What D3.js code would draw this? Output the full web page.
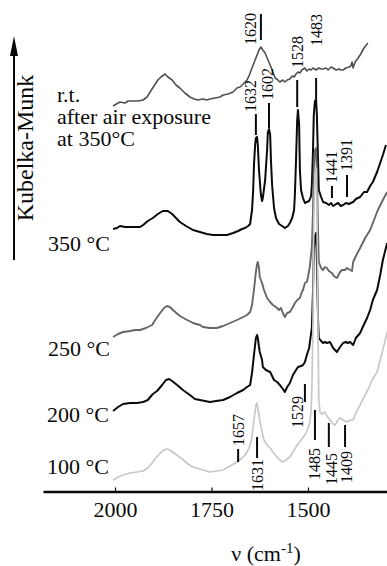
<!DOCTYPE html>
<html><head><meta charset="utf-8">
<script src="https://cdn.jsdelivr.net/npm/d3@7/dist/d3.min.js"></script>
<style>
html,body{margin:0;padding:0;background:#fff;}
svg{display:block;}
</style></head><body>
<svg id="chart" width="387" height="566" font-family="'Liberation Serif', 'Times New Roman', serif"></svg>
<script>
// ---------- DATA (wavenumber cm-1, Kubelka-Munk arbitrary units incl. stacking offset) ----------
const spectrumRT = [[2005,385],[1992,388],[1987,389],[1974,388],[1966,390],[1953,390],[1940,390],[1927,391],[1917,394],[1909,399],[1899,405],[1889,411],[1881,414],[1870,417],[1863,414],[1852,411],[1842,406],[1832,403],[1819,398],[1806,394],[1795,392],[1785,391],[1772,392],[1762,391],[1754,392],[1741,393],[1728,394],[1720,396],[1707,397],[1694,399],[1684,403],[1676,404],[1668,407],[1658,411],[1653,415],[1645,423],[1637,431],[1632,436],[1627,441],[1622,444],[1617,441],[1611,438],[1606,433],[1598,426],[1591,419],[1585,413],[1578,411],[1573,409],[1565,411],[1560,409],[1554,411],[1547,412],[1541,415],[1536,414],[1531,417],[1526,419],[1521,418],[1516,421],[1508,423],[1503,420],[1497,422],[1492,421],[1487,423],[1479,421],[1472,423],[1466,422],[1461,422],[1453,423],[1448,421],[1440,424],[1435,423],[1427,421],[1420,422],[1415,421],[1409,421],[1402,423],[1394,424],[1389,425],[1386,429],[1383,423],[1378,429],[1370,433],[1365,436],[1355,443],[1345,448]];
const spectrum350 = [[2005,262],[1995,263],[1987,265],[1974,264],[1961,264],[1943,264],[1935,264],[1927,266],[1915,270],[1902,273],[1889,277],[1876,280],[1863,280],[1852,277],[1842,273],[1832,269],[1816,265],[1798,261],[1780,259],[1762,257],[1746,256],[1728,256],[1710,256],[1694,258],[1681,260],[1671,262],[1663,263],[1655,265],[1650,267],[1645,281],[1642,301],[1640,326],[1637,346],[1635,353],[1632,354],[1630,346],[1627,321],[1622,296],[1619,290],[1617,293],[1611,311],[1606,341],[1604,359],[1601,362],[1598,356],[1596,331],[1593,306],[1588,283],[1583,273],[1575,267],[1567,265],[1560,263],[1552,265],[1547,268],[1541,273],[1536,281],[1534,296],[1531,331],[1528,371],[1526,381],[1523,366],[1521,321],[1518,301],[1513,293],[1508,288],[1503,289],[1497,290],[1492,295],[1490,306],[1487,341],[1485,376],[1482,390],[1479,391],[1477,376],[1474,331],[1472,301],[1466,294],[1461,289],[1453,288],[1446,286],[1440,288],[1435,285],[1427,287],[1422,288],[1415,285],[1409,286],[1402,288],[1394,287],[1389,288],[1383,289],[1376,292],[1365,294],[1355,299],[1347,299],[1339,305],[1332,309],[1321,319],[1313,328],[1306,336],[1298,346]];
const spectrum250 = [[2005,154],[1992,157],[1979,159],[1961,160],[1948,161],[1935,161],[1920,163],[1904,166],[1894,172],[1883,178],[1873,183],[1865,185],[1858,184],[1850,181],[1832,175],[1813,171],[1798,168],[1780,166],[1772,164],[1754,163],[1736,163],[1720,165],[1702,168],[1684,171],[1668,174],[1658,176],[1650,179],[1645,186],[1640,201],[1635,219],[1632,227],[1630,229],[1627,223],[1625,214],[1619,208],[1614,201],[1606,193],[1598,189],[1591,186],[1583,184],[1575,181],[1570,183],[1565,178],[1560,174],[1554,178],[1547,179],[1539,184],[1534,188],[1528,191],[1521,193],[1516,199],[1513,201],[1508,208],[1503,209],[1500,214],[1495,225],[1490,244],[1487,281],[1485,321],[1482,341],[1479,343],[1477,321],[1474,261],[1472,229],[1466,223],[1461,221],[1456,224],[1451,223],[1446,220],[1438,218],[1433,215],[1425,213],[1417,219],[1412,221],[1404,221],[1399,223],[1391,221],[1386,220],[1383,229],[1376,235],[1365,243],[1352,253],[1339,261],[1329,271],[1319,281],[1306,291],[1295,299]];
const spectrum200 = [[2005,80],[1992,84],[1979,87],[1961,88],[1943,88],[1927,89],[1915,91],[1902,97],[1891,100],[1878,106],[1868,111],[1860,112],[1852,110],[1839,106],[1824,101],[1806,96],[1793,92],[1780,91],[1767,90],[1754,89],[1738,90],[1720,91],[1702,94],[1684,98],[1668,101],[1658,104],[1650,106],[1645,118],[1640,136],[1635,153],[1632,156],[1630,153],[1627,144],[1625,139],[1619,131],[1617,124],[1609,121],[1604,120],[1598,119],[1593,115],[1588,111],[1580,109],[1573,106],[1565,102],[1560,99],[1554,104],[1547,108],[1539,116],[1531,121],[1526,124],[1518,125],[1513,126],[1508,129],[1503,136],[1497,143],[1495,149],[1490,163],[1487,201],[1485,241],[1482,255],[1479,258],[1477,231],[1474,171],[1472,153],[1466,150],[1461,148],[1456,149],[1451,148],[1443,149],[1435,143],[1430,141],[1425,139],[1417,144],[1409,148],[1402,149],[1397,148],[1391,149],[1383,146],[1376,153],[1365,158],[1358,164],[1347,173],[1339,181],[1332,191],[1321,201],[1313,216],[1306,231],[1295,248]];
const spectrum100 = [[2005,11],[1992,14],[1979,16],[1961,18],[1943,19],[1927,20],[1915,23],[1904,28],[1894,33],[1883,38],[1873,41],[1865,42],[1858,41],[1847,38],[1837,35],[1826,32],[1811,27],[1798,24],[1788,23],[1772,21],[1754,19],[1736,20],[1720,21],[1702,25],[1684,29],[1671,33],[1663,36],[1655,41],[1650,46],[1645,54],[1640,71],[1635,86],[1632,88],[1630,83],[1627,76],[1625,71],[1619,59],[1614,51],[1606,46],[1598,43],[1591,39],[1580,34],[1573,31],[1565,29],[1557,31],[1547,34],[1539,39],[1528,46],[1518,51],[1508,56],[1500,63],[1495,69],[1492,81],[1490,101],[1487,171],[1485,271],[1482,316],[1479,323],[1477,291],[1474,161],[1472,91],[1469,79],[1464,77],[1456,79],[1451,75],[1443,71],[1435,67],[1430,66],[1422,71],[1417,73],[1409,71],[1399,69],[1391,71],[1383,71],[1376,78],[1365,86],[1355,94],[1345,101],[1334,111],[1321,119],[1313,131],[1303,146],[1295,159]];

const seriesNames = ["r.t. after air exposure at 350°C", "350 °C", "250 °C", "200 °C", "100 °C"];
const seriesData = [spectrumRT, spectrum350, spectrum250, spectrum200, spectrum100];
const rtLabelLines = ["r.t.", "after air exposure", "at 350°C"];
const xTickValues = [2000, 1750, 1500];
const xTickLabels = ["2000", "1750", "1500"];

// peak annotations: label, text position (wavenumber, KM), marker bar (wavenumber, KM from, KM to)
const peakLabels = ["1620","1528","1483","1632","1602","1441","1391","1657","1631","1529","1485","1445","1409"];
const peakTextPos = [[1650,462],[1528,439],[1477,461],[1648,395],[1604,407],[1438,324],[1399,336],[1681,61],[1630,16],[1528,79],[1482,27],[1438,22],[1399,24]];
const peakBars = [[1622,477,451],[1528,411,384],[1479,413,391],[1635,377,356],[1601,388,363],[1438,305,293],[1399,316,294],[1681,42,29],[1632,54,33],[1508,107,89],[1482,81,51],[1446,68,44],[1404,66,44]];

// ---------- STYLE / LAYOUT ----------
const FONT = "'Liberation Serif', 'Times New Roman', serif";
const INK = "#0a0a0a";
const colors = ["#505050", INK, "#666666", INK, "#c8c8c8"];
const widths = [1.6, 2.0, 1.9, 2.0, 1.7];

const svg = d3.select("#chart");
const x = d3.scaleLinear().domain([2000, 1500]).range([115, 308]);
const y = d3.scaleLinear().domain([0, 460]).range([491, 31]);

function txt(sel) { return sel.attr("font-family", FONT).attr("fill", INK); }

// x axis (line extends across the plot area)
const xAxisScale = x.copy().domain([x.invert(43), x.invert(387)]).range([43, 387]);
const xAxis = d3.axisBottom(xAxisScale)
  .tickValues(xTickValues)
  .tickFormat((d, i) => xTickLabels[i])
  .tickSizeInner(-4).tickSizeOuter(0).tickPadding(10);
const gx = svg.append("g").attr("transform", "translate(0,491.5)").call(xAxis);
gx.attr("font-family", FONT).attr("font-size", 22);
gx.select(".domain").attr("stroke", INK).attr("stroke-width", 2.5);
gx.selectAll(".tick line").attr("stroke", INK).attr("stroke-width", 1.2);
gx.selectAll(".tick text").attr("fill", INK).attr("font-family", FONT).attr("font-size", 22);

// x axis title
const xt = txt(svg.append("text")).attr("x", 266).attr("y", 561).attr("text-anchor", "middle").attr("font-size", 22);
xt.append("tspan").text("ν (cm");
xt.append("tspan").attr("dy", -8).attr("font-size", 15).text("-1");
xt.append("tspan").attr("dy", 8).text(")");

// y axis arrow
svg.append("line").attr("x1", 14).attr("x2", 14).attr("y1", 50).attr("y2", 260)
  .attr("stroke", INK).attr("stroke-width", 2);
svg.append("path").attr("d", "M14,36 L10,56 L18,56 Z").attr("fill", INK);
txt(svg.append("text")).attr("transform", "translate(33,148) rotate(-90)")
  .attr("text-anchor", "middle").attr("font-size", 24).text("Kubelka-Munk");

// spectra
const line = d3.line().x(d => x(d[0])).y(d => y(d[1]));
svg.append("g").selectAll("path").data(seriesData).join("path")
  .attr("d", line)
  .attr("fill", "none")
  .attr("stroke", (d, i) => colors[i])
  .attr("stroke-width", (d, i) => widths[i])
  .attr("stroke-linejoin", "round");

// series labels
const labelPos = [[57, 102], [48, 251], [48, 356], [47, 422], [47, 474]];
const rt = txt(svg.append("text")).attr("x", labelPos[0][0]).attr("y", labelPos[0][1]).attr("font-size", 22);
rtLabelLines.forEach((t, i) => {
  rt.append("tspan").attr("x", labelPos[0][0]).attr("dy", i === 0 ? 0 : 22).text(t);
});
seriesNames.slice(1).forEach((n, i) => {
  const p = labelPos[i + 1];
  txt(svg.append("text")).attr("x", p[0]).attr("y", p[1]).attr("font-size", 22).text(n);
});

// peak annotations
const ann = svg.append("g");
peakLabels.forEach((lab, i) => {
  const tp = peakTextPos[i];
  txt(ann.append("text"))
    .attr("transform", `translate(${x(tp[0])},${y(tp[1])}) rotate(-90)`)
    .attr("text-anchor", "middle").attr("dy", "0.34em")
    .attr("font-size", 16).text(lab);
  const b = peakBars[i];
  ann.append("line").attr("x1", x(b[0])).attr("x2", x(b[0]))
    .attr("y1", y(b[1])).attr("y2", y(b[2]))
    .attr("stroke", INK).attr("stroke-width", 2);
});
</script>
</body></html>
